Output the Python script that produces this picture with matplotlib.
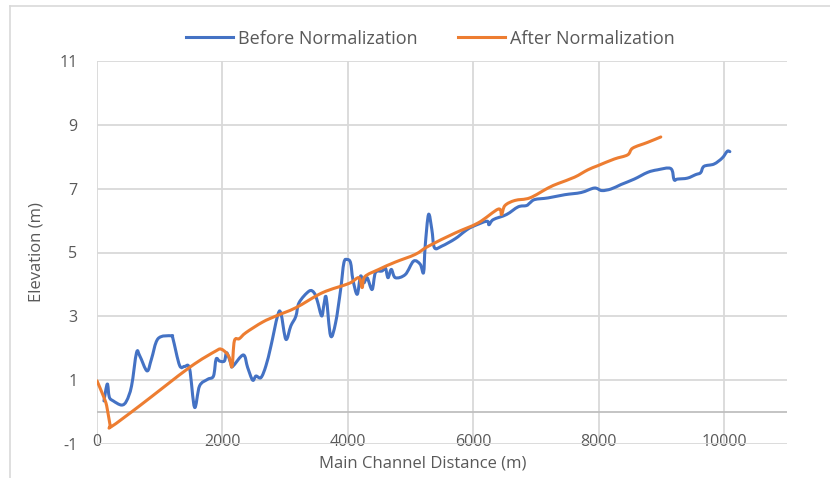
import matplotlib.pyplot as plt
from matplotlib.lines import Line2D
from matplotlib.path import Path
from matplotlib.patches import PathPatch

plt.rcParams['font.family'] = ['Open Sans', 'DejaVu Sans']
plt.rcParams['axes.unicode_minus'] = False

# elevation profile along the main channel, before normalization
before_dist = [111, 164, 196, 259, 391, 471, 551, 630, 682, 798, 868, 973, 1185, 1211,
               1317, 1397, 1476, 1555, 1635, 1767, 1857, 1899, 1952, 2031, 2068, 2138,
               2163, 2333, 2401, 2481, 2534, 2614, 2693, 2773, 2878, 2931, 3011, 3090,
               3170, 3222, 3381, 3460, 3513, 3582, 3619, 3655, 3724, 3804, 3884, 3936,
               3989, 4042, 4079, 4148, 4201, 4254, 4307, 4386, 4439, 4545, 4597, 4639,
               4692, 4756, 4915, 5047, 5153, 5206, 5232, 5285, 5338, 5380, 5497, 5709,
               5867, 5974, 6212, 6249, 6317, 6529, 6714, 6846, 6899, 6979, 7190, 7455,
               7719, 7930, 8047, 8195, 8354, 8565, 8777, 8935, 9147, 9200, 9253, 9412,
               9544, 9623, 9676, 9835, 9967, 10047, 10089]
before_elev = [0.35, 0.88, 0.47, 0.35, 0.22, 0.35, 0.82, 1.86, 1.76, 1.29, 1.66, 2.30, 2.39, 2.30,
               1.46, 1.43, 1.36, 0.15, 0.82, 1.03, 1.13, 1.66, 1.60, 1.60, 1.86, 1.50,
               1.43, 1.79, 1.40, 1.00, 1.13, 1.08, 1.45, 2.07, 3.01, 3.10, 2.28, 2.70,
               3.00, 3.43, 3.79, 3.74, 3.48, 3.01, 3.38, 3.58, 2.39, 2.80, 3.84, 4.68,
               4.78, 4.68, 4.16, 3.69, 4.26, 4.05, 4.21, 3.84, 4.37, 4.42, 4.52, 4.21,
               4.47, 4.21, 4.31, 4.73, 4.63, 4.37, 5.20, 6.19, 5.72, 5.15, 5.20, 5.43,
               5.67, 5.80, 5.98, 5.87, 6.03, 6.19, 6.43, 6.47, 6.55, 6.66, 6.71, 6.81,
               6.88, 7.02, 6.94, 6.99, 7.13, 7.30, 7.51, 7.59, 7.63, 7.28, 7.30, 7.33,
               7.44, 7.50, 7.70, 7.77, 7.96, 8.17, 8.16]

# after normalization
after_dist = [0, 100, 154, 206, 233, 682, 1476, 1899, 1979, 2058, 2110, 2153, 2190, 2269,
              2375, 2640, 2852, 3170, 3593, 4016, 4174, 4227, 4269, 4492, 4756, 5073,
              5285, 5709, 6079, 6397, 6450, 6503, 6661, 6899, 7190, 7349, 7613, 7825,
              7984, 8248, 8460, 8540, 8777, 8988]
after_elev = [0.98, 0.51, 0.20, -0.38, -0.45, 0.20, 1.40, 1.92, 1.97, 1.86, 1.70, 1.43, 2.23, 2.30,
              2.49, 2.82, 3.01, 3.27, 3.74, 4.03, 4.21, 3.90, 4.24, 4.47, 4.70, 4.94,
              5.20, 5.61, 5.93, 6.36, 6.19, 6.47, 6.63, 6.71, 7.02, 7.16, 7.36, 7.59,
              7.72, 7.93, 8.06, 8.27, 8.45, 8.62]

x_ticks = [0, 2000, 4000, 6000, 8000, 10000]
y_ticks = [-1, 1, 3, 5, 7, 9, 11]

text_color = '#595959'
grid_color = '#D9D9D9'


def smooth_line(ax, xs, ys, color, label, z):
    # spreadsheet-style smoothed line: cubic bezier segments through each point
    pts = list(zip(xs, ys))
    verts = [pts[0]]
    codes = [Path.MOVETO]
    n = len(pts)
    for i in range(n - 1):
        p0 = pts[i - 1] if i > 0 else pts[i]
        p1 = pts[i]
        p2 = pts[i + 1]
        p3 = pts[i + 2] if i + 2 < n else pts[i + 1]
        c1 = (p1[0] + (p2[0] - p0[0]) / 6, p1[1] + (p2[1] - p0[1]) / 6)
        c2 = (p2[0] - (p3[0] - p1[0]) / 6, p2[1] - (p3[1] - p1[1]) / 6)
        verts += [c1, c2, p2]
        codes += [Path.CURVE4] * 3
    patch = PathPatch(Path(verts, codes), facecolor='none', edgecolor=color, lw=2.2,
                      joinstyle='round', capstyle='round', zorder=z)
    ax.add_patch(patch)
    # proxy for the legend entry
    ax.plot([], [], color=color, lw=2.2, label=label)


fig = plt.figure(figsize=(8.3, 4.78), dpi=100)
ax = fig.add_axes([97 / 830, 1 - 444 / 478, 690 / 830, 383 / 478])

smooth_line(ax, before_dist, before_elev, '#4472C4', 'Before Normalization', 3)
smooth_line(ax, after_dist, after_elev, '#ED7D31', 'After Normalization', 4)

ax.set_xlim(0, 11000)
ax.set_ylim(-1, 11)
ax.set_xticks(x_ticks)
ax.set_yticks(y_ticks)
ax.grid(True, color=grid_color, lw=1.3)
ax.axhline(0, color='#BFBFBF', lw=1.3, zorder=2)
for s in ax.spines.values():
    s.set_visible(False)
ax.tick_params(length=0, labelsize=11.5, labelcolor=text_color)
ax.tick_params(axis='x', pad=-7)
ax.tick_params(axis='y', pad=14)

ax.set_xlabel('Main Channel Distance (m)', fontsize=12, color=text_color, va='center')
ax.xaxis.set_label_coords(0.472, -0.052)
ax.set_ylabel('Elevation (m)', fontsize=12, color=text_color, va='center')
ax.yaxis.set_label_coords(-0.087, 0.5)

ax.legend(loc='center', bbox_to_anchor=(0.483, 1.058), ncol=2, frameon=False,
          fontsize=13, labelcolor=text_color, handlelength=2.6, columnspacing=2.2,
          handletextpad=0.3)

# chart area border
fig.add_artist(Line2D([10 / 830, 10 / 830], [0, 1 - 6 / 478], color='#D9D9D9', lw=1.2))
fig.add_artist(Line2D([10 / 830, 1], [1 - 6 / 478, 1 - 6 / 478], color='#D9D9D9', lw=1.2))

fig.savefig('out.png', dpi=100)
